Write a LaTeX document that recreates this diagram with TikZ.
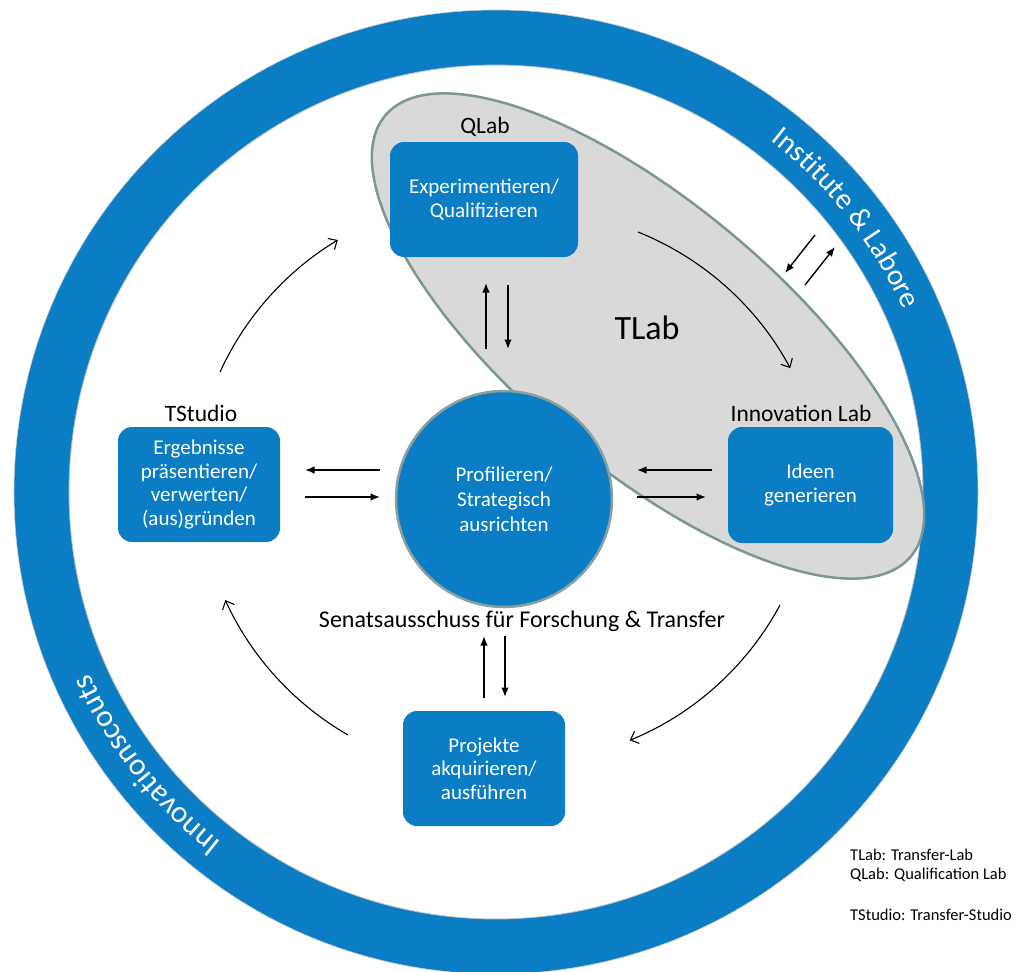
\documentclass[tikz,border=0pt]{standalone}
\usepackage{fontspec}
\setmainfont{Carlito}
\usetikzlibrary{arrows.meta,decorations.text,calc}
\definecolor{ringblue}{RGB}{10,125,197}
\definecolor{ellfill}{RGB}{217,217,217}
\definecolor{ellline}{RGB}{125,150,148}
\definecolor{circline}{RGB}{140,160,160}
\begin{document}
\begin{tikzpicture}[x=1pt,y=-1pt,
  box/.style={fill=ringblue, rounded corners=14pt, text=white, align=center,
    font=\fontsize{21}{23.5}\selectfont, inner sep=0pt},
  lab/.style={font=\fontsize{23.5}{27}\selectfont, text=black},
  legend/.style={anchor=west, font=\fontsize{16.5}{19}\selectfont, inner sep=0pt},
  arr/.style={line width=1.4pt, -{Latex[length=9.5pt,width=7.5pt]}},
  cyc/.style={line width=1.1pt, -{Straight Barb[length=7pt,width=13pt]}},
  ringtext/.style={decorate, decoration={text along path, text align=center,
    text={#1}}}
]
\useasboundingbox (0,0) rectangle (1024,971);
\clip (0,0) rectangle (1024,971);
\fill[white] (0,0) rectangle (1024,971);

% outer ring
\coordinate (ctr) at (496,492);
\fill[ringblue, even odd rule] (ctr) circle[radius=482] (ctr) circle[radius=427];
\draw[gray!50, line width=0.8pt] (ctr) circle[radius=427];
\draw[gray!40, line width=0.6pt] (ctr) circle[radius=482];

\path[ringtext={|\fontsize{29.5}{29.5}\selectfont\color{white}|Institute {\&} Labore}]
  (ctr) ++(292:446) arc[start angle=292, end angle=352, radius=446];
\path[ringtext={|\fontsize{31}{31}\selectfont\color{white}|Innovationscouts}]
  (ctr) ++(112:445) arc[start angle=112, end angle=172, radius=445];

% TLab ellipse
\draw[fill=ellfill, draw=ellline, line width=2.5pt, shift={(648,336)}, rotate=-40]
  (0,0) ellipse[x radius=343, y radius=132];
\node[font=\fontsize{34}{40}\selectfont] (tlab) at (647,328) {TLab};

% boxes
\node[box, minimum width=188, minimum height=115] (ql) at (484,199.5) {Experimentieren/\\Qualifizieren};
\node[box, minimum width=162, minimum height=115] (ts) at (199,484.5) {Ergebnisse\\präsentieren/\\verwerten/\\(aus)gründen};
\node[box, minimum width=165, minimum height=116] (il) at (810.5,485) {Ideen\\generieren};
\node[box, minimum width=162, minimum height=115] (pj) at (484,768.5) {Projekte\\akquirieren/\\ausführen};

\node[circle, fill=ringblue, draw=circline, line width=2.5pt, minimum size=216,
  text=white, align=center, font=\fontsize{21}{25}\selectfont, inner sep=0pt]
  (pr) at (504,499) {Profilieren/\\Strategisch\\ausrichten};

% labels
\node[lab] (qlt) at (485,127) {QLab};
\node[lab] (tst) at (201,413) {TStudio};
\node[lab] (ilt) at (801,413) {Innovation Lab};
\node[font=\fontsize{24}{28}\selectfont] (sen) at (522,621) {Senatsausschuss für Forschung \& Transfer};

% legend
\node[legend] (lg1) at (850,855) {TLab: Transfer-Lab};
\node[legend] (lg2) at (850,875) {QLab: Qualification Lab};
\node[legend] (lg3) at (850,915) {TStudio: Transfer-Studio};

% straight arrow end points
\coordinate (a1) at (380,470); \coordinate (a2) at (305,470);
\coordinate (a3) at (305,497); \coordinate (a4) at (380,497);
\coordinate (b1) at (712,470); \coordinate (b2) at (637,470);
\coordinate (b3) at (637,497); \coordinate (b4) at (706,497);
\coordinate (q1) at (486,349); \coordinate (q2) at (486,283);
\coordinate (q3) at (508,285); \coordinate (q4) at (508,349);
\coordinate (p1) at (484,698); \coordinate (p2) at (484,636);
\coordinate (p3) at (505,636); \coordinate (p4) at (505,697);
\coordinate (d1) at (815,235); \coordinate (d2) at (785,273);
\coordinate (d3) at (805,285); \coordinate (d4) at (835,247);

\draw[arr] (a1) -- (a2);
\draw[arr] (a3) -- (a4);
\draw[arr] (b1) -- (b2);
\draw[arr] (b3) -- (b4);
\draw[arr] (q1) -- (q2);
\draw[arr] (q3) -- (q4);
\draw[arr] (p1) -- (p2);
\draw[arr] (p3) -- (p4);
\draw[arr] (d1) -- (d2);
\draw[arr] (d3) -- (d4);

% cycle arcs
\coordinate (c1) at (220,372);
\coordinate (c2) at (638,232);
\coordinate (c3) at (780,605);
\coordinate (c4) at (348,735);
\draw[cyc] (c1) arc[start angle=204.6, end angle=238.9, radius=300];
\draw[cyc] (c2) arc[start angle=291.9, end angle=331.7, radius=300];
\draw[cyc] (c3) arc[start angle=28.3, end angle=67.7, radius=300];
\draw[cyc] (c4) arc[start angle=120, end angle=155.4, radius=300];
\end{tikzpicture}
\end{document}
